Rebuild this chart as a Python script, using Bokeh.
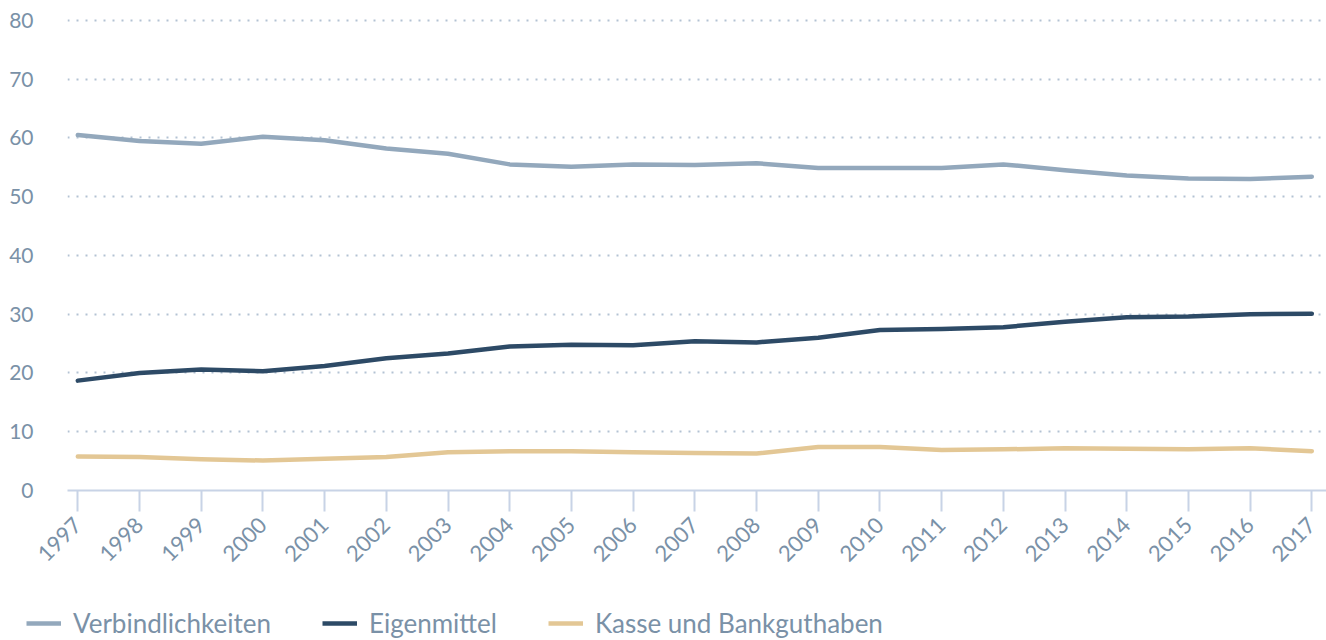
from math import pi
from bokeh.plotting import figure
from bokeh.layouts import column
from bokeh.models import FixedTicker, Legend, LegendItem, Range1d, ColumnDataSource
from bokeh.embed import file_html
from bokeh.resources import INLINE

years = list(range(1997, 2018))
tick_labels = [str(y) for y in years]
y_ticks = [0, 10, 20, 30, 40, 50, 60, 70, 80]

verbindlichkeiten = [60.5, 59.5, 59.0, 60.2, 59.6, 58.2, 57.3, 55.5, 55.1, 55.5, 55.4, 55.7,
                     54.9, 54.9, 54.9, 55.5, 54.5, 53.6, 53.1, 53.0, 53.4]
eigenmittel = [18.7, 20.0, 20.6, 20.3, 21.2, 22.5, 23.3, 24.5, 24.8, 24.7, 25.4, 25.2,
               26.0, 27.3, 27.5, 27.8, 28.7, 29.5, 29.6, 30.0, 30.1]
kasse = [5.8, 5.7, 5.3, 5.1, 5.4, 5.7, 6.5, 6.7, 6.7, 6.5, 6.4, 6.3,
         7.4, 7.4, 6.9, 7.0, 7.2, 7.1, 7.0, 7.2, 6.7]

series_names = ["Verbindlichkeiten", "Eigenmittel", "Kasse und Bankguthaben"]
series_colors = ["#93a8bc", "#2d4a66", "#e3c795"]

FONT = "Lato"
LABEL_COLOR = "#7a91a7"

p = figure(frame_width=1259, frame_height=473,
           output_backend="svg", toolbar_location=None,
           x_range=Range1d(1996.833, 2017.238), y_range=Range1d(0, 80.5),
           min_border_left=67, min_border_right=0, min_border_top=17, min_border_bottom=100)
p.outline_line_color = None
p.background_fill_color = "white"
p.border_fill_color = "white"

src = ColumnDataSource(dict(year=years, v=verbindlichkeiten, e=eigenmittel, k=kasse))
for col, c in zip(["v", "e", "k"], series_colors):
    p.line("year", col, source=src, line_color=c, line_width=4.5, line_cap="round", line_join="round")

# x axis
xa = p.xaxis[0]
xa.ticker = FixedTicker(ticks=years)
xa.major_label_overrides = {y: t for y, t in zip(years, tick_labels)}
xa.major_label_orientation = pi / 4
xa.axis_line_color = "#c8d3e6"
xa.axis_line_width = 2
xa.major_tick_line_color = "#c8d3e6"
xa.major_tick_line_width = 2
xa.major_tick_out = 21
xa.major_tick_in = 0
xa.minor_tick_line_color = None
xa.major_label_standoff = 10
xa.major_label_text_font = FONT
xa.major_label_text_font_size = "22px"
xa.major_label_text_color = LABEL_COLOR

# y axis
ya = p.yaxis[0]
ya.ticker = FixedTicker(ticks=y_ticks)
ya.axis_line_color = None
ya.major_tick_line_color = None
ya.minor_tick_line_color = None
ya.major_tick_out = 0
ya.major_tick_in = 0
ya.major_label_standoff = 34
ya.major_label_text_font = FONT
ya.major_label_text_font_size = "21px"
ya.major_label_text_color = LABEL_COLOR

p.xgrid.grid_line_color = None
p.ygrid.ticker = FixedTicker(ticks=y_ticks[1:])
p.ygrid.grid_line_color = "#b3c2d3"
p.ygrid.grid_line_width = 2
p.ygrid.grid_line_dash = "2 7"

# legend strip (series drawn out of view so only the legend shows)
lg = figure(frame_width=1326, frame_height=50, output_backend="svg", toolbar_location=None,
            x_axis_type=None, y_axis_type=None, x_range=Range1d(0, 1), y_range=Range1d(0, 1),
            min_border=0)
lg.outline_line_color = None
lg.xgrid.visible = False
lg.ygrid.visible = False
items = []
for n, col, c in zip(series_names, ["v", "e", "k"], series_colors):
    r = lg.line("year", col, source=src, line_color=c, line_width=4.5)
    items.append(LegendItem(label=n, renderers=[r]))
legend = Legend(items=items, orientation="horizontal", location=(26, 1),
                glyph_width=35, glyph_height=20, label_standoff=12, spacing=51,
                padding=0, margin=0, border_line_color=None, background_fill_alpha=0,
                label_text_font=FONT, label_text_font_size="26px", label_text_color=LABEL_COLOR)
lg.add_layout(legend)

layout = column(p, lg, spacing=0)
open("out.html", "w").write(file_html(layout, INLINE))
